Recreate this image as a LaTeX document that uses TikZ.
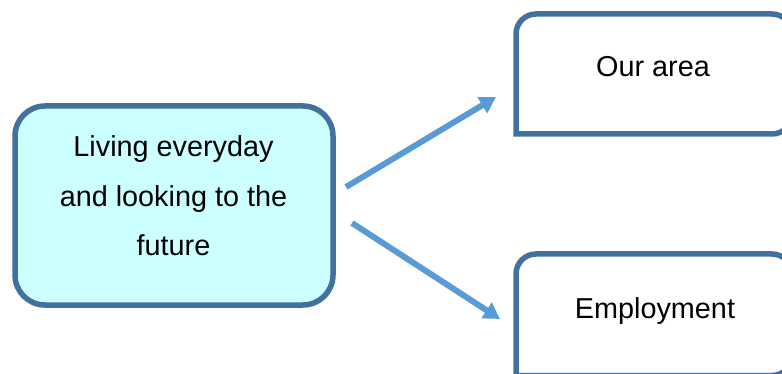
\documentclass[tikz,border=0pt]{standalone}
\usepackage{fontspec}
\setmainfont{Liberation Sans}
\usetikzlibrary{arrows.meta}
\definecolor{edgeblue}{RGB}{65,113,156}
\definecolor{arrowblue}{RGB}{91,155,213}
\definecolor{paleaqua}{RGB}{204,255,255}
\begin{document}
\begin{tikzpicture}[x=1pt,y=-1pt,
  every node/.style={font=\fontsize{28.8}{49.5}\selectfont, inner sep=0pt, outer sep=0pt},
  mainbox/.style={draw=edgeblue, line width=5.5pt, fill=paleaqua, rounded corners=30pt,
                  minimum width=318pt, minimum height=199pt},
  sidebox/.style={minimum width=276pt, minimum height=120pt},
  outline/.style={draw=edgeblue, line width=5.5pt, rounded corners=20pt, line cap=rect},
  flow/.style={draw=arrowblue, line width=6pt, -{Triangle[length=16pt,width=18pt]}}
]
\useasboundingbox (0,0) rectangle (782,374);
\clip (0,0) rectangle (782,374);

% central box
\node[mainbox] (live) at (174,205.5) {};
\node[align=center] (livetext) at (173.5,196) {Living everyday\\and looking to the\\future};

% upper right box
\node[sidebox] (area) at (654,74) {};
\draw[outline] (area.south west) -- (area.north west) -- (area.north east)
  -- (area.south east) -- (area.south west);
\node[anchor=base] (areatext) at (653,77) {Our area};

% lower right box
\node[sidebox, minimum height=121.5pt] (work) at (654,314.75) {};
\draw[outline] (work.south west) -- (work.north west) -- (work.north east)
  -- (work.south east) -- (work.south west);
\node[anchor=base] (worktext) at (655,318) {Employment};

% connectors
\draw[flow] ([xshift=13pt,yshift=18.5pt]live.east) -- ([xshift=-20pt,yshift=-23pt]area.west);
\draw[flow] ([xshift=19pt,yshift=-17.5pt]live.east) -- ([xshift=-16pt,yshift=-4.25pt]work.west);
\end{tikzpicture}
\end{document}
